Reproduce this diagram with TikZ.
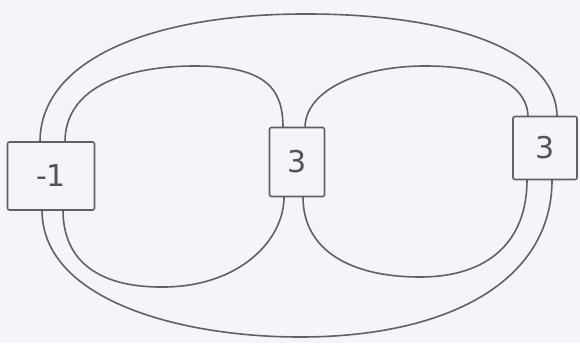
\documentclass[tikz,border=0pt]{standalone}
\usepackage{fontspec}
\setsansfont{DejaVu Sans}
\begin{document}
\begin{tikzpicture}[x=1pt,y=-1pt,
  strand/.style={draw=black!62,line width=1.6pt,line cap=round},
  boxnode/.style={draw=black!62,line width=1.6pt,fill=paper,inner sep=0pt,
    rounded corners=2pt,font=\sffamily\fontsize{30}{30}\selectfont,text=black!68}]
\definecolor{paper}{HTML}{F4F5FA}
\fill[paper] (0,0) rectangle (580,343);
\useasboundingbox (0,0) rectangle (580,343);
% strand end points
\coordinate (Lt1) at (40,142);  \coordinate (Lt2) at (65,142);
\coordinate (Lb1) at (42,210);  \coordinate (Lb2) at (63,210);
\coordinate (Mt1) at (283,128); \coordinate (Mt2) at (305,128);
\coordinate (Mb1) at (284,197); \coordinate (Mb2) at (303,197);
\coordinate (Rt1) at (528,117); \coordinate (Rt2) at (557,117);
\coordinate (Rb1) at (527,180); \coordinate (Rb2) at (552,180);
% curves
\draw[strand] (Lt1) .. controls (40,60) and (150,15) .. (300,14) .. controls (450,13) and (557,50) .. (Rt2);
\draw[strand] (Lt2) .. controls (65,85) and (130,66) .. (195,66) .. controls (270,66) and (283,92) .. (Mt1);
\draw[strand] (Mt2) .. controls (305,90) and (360,66) .. (425,66) .. controls (500,66) and (528,90) .. (Rt1);
\draw[strand] (Lb1) .. controls (42,300) and (180,337) .. (300,337) .. controls (450,337) and (552,280) .. (Rb2);
\draw[strand] (Lb2) .. controls (63,262) and (100,288) .. (165,287) .. controls (240,286) and (284,240) .. (Mb1);
\draw[strand] (Mb2) .. controls (303,250) and (350,277) .. (420,277) .. controls (490,277) and (527,240) .. (Rb1);
% boxes
\node[boxnode,minimum width=87pt,minimum height=68pt] (L) at (51,176) {-1};
\node[boxnode,minimum width=55pt,minimum height=69pt] (M) at (297,162) {3};
\node[boxnode,minimum width=64pt,minimum height=63pt] (R) at (545,148) {3};
\end{tikzpicture}
\end{document}
